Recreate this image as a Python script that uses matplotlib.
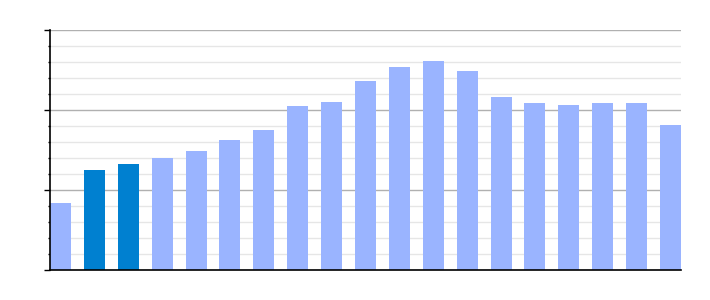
import numpy as np
import matplotlib.pyplot as plt
from matplotlib.ticker import MultipleLocator

# bar heights (axis runs 0..30)
values = [8.4, 12.5, 13.25, 14.0, 14.9, 16.25, 17.5, 20.5, 21.0, 23.6,
          25.4, 26.1, 24.9, 21.6, 20.9, 20.6, 20.9, 20.9, 18.1]
highlight = [1, 2]

light = "#9ab4ff"
dark = "#0080d0"
colors = [dark if i in highlight else light for i in range(len(values))]

fig = plt.figure(figsize=(7.1, 3.0), dpi=100)
ax = fig.add_axes([50 / 710, 0.1, 631 / 710, 0.8])

width = 0.62
x = np.arange(len(values))
ax.bar(x, values, width=width, color=colors, zorder=3)

ax.set_xlim(-width / 2, len(values) - 1 + width / 2)
ax.set_ylim(0, 30)

ax.yaxis.set_major_locator(MultipleLocator(10))
ax.yaxis.set_minor_locator(MultipleLocator(2))
ax.grid(which="major", axis="y", color="#b0b0b0", linewidth=1.0, zorder=0)
ax.grid(which="minor", axis="y", color="#e6e6e6", linewidth=1.0, zorder=0)

ax.set_xticks([])
ax.set_yticklabels([])
ax.tick_params(axis="y", which="major", length=4, width=1.0, direction="out")
ax.tick_params(axis="y", which="minor", length=1.6, width=1.0, direction="out")

ax.spines["top"].set_visible(False)
ax.spines["right"].set_visible(False)
ax.spines["left"].set_linewidth(1.2)
ax.spines["bottom"].set_linewidth(1.2)
ax.spines["left"].set_zorder(4)
ax.spines["bottom"].set_zorder(4)

fig.savefig("out.png", dpi=100)
